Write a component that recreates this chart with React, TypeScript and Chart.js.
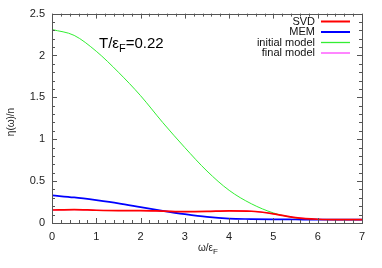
import React, { useEffect, useRef } from "react";
import { Chart, registerables } from "chart.js";

Chart.register(...registerables);

const omega = [0, 0.5, 1, 1.5, 2, 2.5, 3, 3.5, 4, 4.5, 5, 5.5, 6, 6.5, 7];
const svd = [0.155, 0.16, 0.152, 0.148, 0.148, 0.142, 0.135, 0.138, 0.145, 0.14, 0.11, 0.065, 0.045, 0.04, 0.04];
const mem = [0.33, 0.305, 0.272, 0.235, 0.19, 0.145, 0.105, 0.072, 0.052, 0.047, 0.044, 0.042, 0.04, 0.04, 0.04];
const initialModel = [2.31, 2.24, 2.05, 1.8, 1.52, 1.2, 0.9, 0.62, 0.39, 0.23, 0.12, 0.06, 0.042, 0.04, 0.04];
const finalModel = [0.155, 0.16, 0.152, 0.148, 0.148, 0.142, 0.135, 0.138, 0.145, 0.14, 0.11, 0.065, 0.045, 0.04, 0.04];

const seriesLabels = ["SVD", "MEM", "initial model", "final model"];
const seriesColors = ["#ff0000", "#0000ff", "#33ee33", "#ff44ff"];
const seriesWidths = [1.7, 1.7, 1, 1];

const xTicks = [0, 1, 2, 3, 4, 5, 6, 7];
const yTicks = [0, 0.5, 1, 1.5, 2, 2.5];

const FONT = "'Liberation Sans', Arial, sans-serif";

const framePlugin = {
  id: "gnuFrame",
  afterDatasetsDraw(chart: any) {
    const ctx = chart.ctx;
    const { left, right, top, bottom } = chart.chartArea;
    const xs = chart.scales.x;
    const ys = chart.scales.y;
    ctx.save();
    ctx.strokeStyle = "#555";
    ctx.lineWidth = 1;
    ctx.beginPath();
    for (let i = 0; i <= 35; i++) {
      const v = i * 0.2;
      const px = Math.round(xs.getPixelForValue(v)) + 0.5;
      const major = i % 5 === 0;
      const len = major ? 5 : 3;
      ctx.moveTo(px, bottom);
      ctx.lineTo(px, bottom - len);
      ctx.moveTo(px, top);
      ctx.lineTo(px, top + len);
    }
    for (let i = 0; i <= 25; i++) {
      const v = i * 0.1;
      const py = Math.round(ys.getPixelForValue(v)) + 0.5;
      const major = i % 5 === 0;
      const len = major ? 5 : 3;
      ctx.moveTo(left, py);
      ctx.lineTo(left + len, py);
      ctx.moveTo(right, py);
      ctx.lineTo(right - len, py);
    }
    ctx.stroke();
    ctx.strokeRect(Math.round(left) + 0.5, Math.round(top) + 0.5, Math.round(right - left), Math.round(bottom - top));

    // legend
    ctx.font = `11px ${FONT}`;
    ctx.fillStyle = "#111";
    ctx.textAlign = "right";
    ctx.textBaseline = "middle";
    const rows = [21.5, 32, 42.5, 53];
    seriesLabels.forEach((lab, i) => {
      ctx.fillText(lab, 315, rows[i]);
      ctx.strokeStyle = seriesColors[i];
      ctx.lineWidth = seriesWidths[i] + 0.3;
      ctx.beginPath();
      ctx.moveTo(321, rows[i]);
      ctx.lineTo(350, rows[i]);
      ctx.stroke();
    });

    // annotation
    ctx.textAlign = "left";
    ctx.textBaseline = "alphabetic";
    ctx.fillStyle = "#000";
    ctx.font = `15px ${FONT}`;
    let x = 99;
    const by = 48;
    ctx.fillText("T/ε", x, by);
    x += ctx.measureText("T/ε").width;
    ctx.font = `11px ${FONT}`;
    ctx.fillText("F", x, by + 4);
    x += ctx.measureText("F").width;
    ctx.font = `15px ${FONT}`;
    ctx.fillText("=0.22", x, by);

    // x title
    ctx.font = `10px ${FONT}`;
    ctx.fillStyle = "#222";
    let tx = 198;
    ctx.fillText("ω/ε", tx, 251);
    tx += ctx.measureText("ω/ε").width;
    ctx.font = `8px ${FONT}`;
    ctx.fillText("F", tx, 254);

    // y title
    ctx.save();
    ctx.translate(14, 122);
    ctx.rotate(-Math.PI / 2);
    ctx.font = `10px ${FONT}`;
    ctx.textAlign = "center";
    ctx.fillText("η(ω)/n", 0, 0);
    ctx.restore();

    ctx.restore();
  },
};

export default function App() {
  const ref = useRef<HTMLCanvasElement | null>(null);
  useEffect(() => {
    if (!ref.current) return;
    const series = [svd, mem, initialModel, finalModel];
    const chart = new Chart(ref.current, {
      type: "line",
      data: {
        datasets: series.map((vals, i) => ({
          label: seriesLabels[i],
          data: omega.map((w, k) => ({ x: w, y: vals[k] })),
          borderColor: seriesColors[i],
          borderWidth: seriesWidths[i],
          pointRadius: 0,
          tension: 0.4,
          cubicInterpolationMode: "monotone" as const,
          fill: false,
          order: i,
        })),
      },
      options: {
        animation: false,
        responsive: false,
        maintainAspectRatio: false,
        layout: { padding: { top: 13, right: 20, left: 0, bottom: 0 } },
        plugins: { legend: { display: false }, tooltip: { enabled: false } },
        scales: {
          x: {
            type: "linear",
            min: 0,
            max: 7,
            afterFit: (s: any) => {
              s.height = 45;
            },
            afterBuildTicks: (s: any) => {
              s.ticks = xTicks.map((v) => ({ value: v }));
            },
            grid: { display: false, drawTicks: false },
            border: { display: false },
            ticks: { padding: 7, color: "#222", font: { family: FONT, size: 11 }, callback: (v: any) => String(v) },
          },
          y: {
            type: "linear",
            min: 0,
            max: 2.5,
            afterFit: (s: any) => {
              s.width = 52;
            },
            afterBuildTicks: (s: any) => {
              s.ticks = yTicks.map((v) => ({ value: v }));
            },
            grid: { display: false, drawTicks: false },
            border: { display: false },
            ticks: { padding: 7, color: "#222", font: { family: FONT, size: 11 }, callback: (v: any) => String(v) },
          },
        },
      },
      plugins: [framePlugin],
    });
    return () => chart.destroy();
  }, []);
  return (
    <div style={{ position: "fixed", left: 0, top: 0, width: 382, height: 268, background: "#fff" }}>
      <canvas ref={ref} width={382} height={268} style={{ width: 382, height: 268 }} />
    </div>
  );
}
